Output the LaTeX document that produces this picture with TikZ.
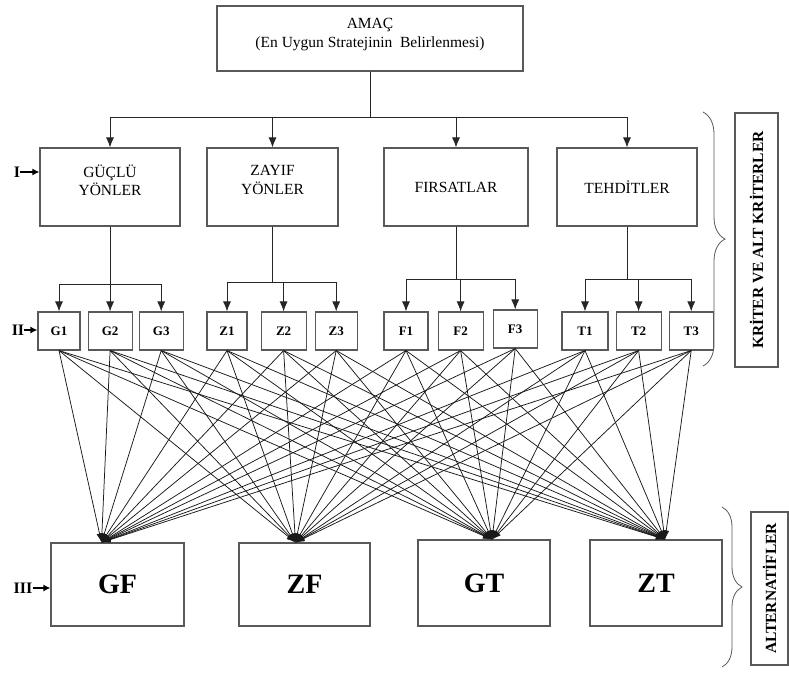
\documentclass[tikz,border=0pt]{standalone}
\usepackage{fontspec}
\setmainfont{Liberation Serif}
\usetikzlibrary{arrows.meta}
\usetikzlibrary{positioning}
\usetikzlibrary{decorations.pathreplacing}

\tikzset{
  box/.style={draw=black!65, line width=1.1pt, inner sep=0pt, align=center,
    font=\fontsize{15.5}{18.5}\selectfont},
  crit/.style={box, minimum height=78pt},
  sub/.style={box, minimum width=44pt, minimum height=38pt,
    font=\fontsize{13}{15}\selectfont\bfseries},
  alt/.style={box, minimum width=132pt, minimum height=84pt,
    font=\fontsize{28}{30}\selectfont\bfseries},
  arr/.style={-{Latex[length=10pt,width=8pt]}, line width=0.9pt, draw=black!85},
  link/.style={-{Latex[length=9pt,width=6pt]}, line width=0.75pt, draw=black!90},
  lvl/.style={font=\fontsize{16}{18}\selectfont\bfseries, inner sep=0pt},
  lvlarr/.style={-{Latex[length=7pt,width=7pt]}, line width=1.4pt},
  side/.style={draw=black!65, line width=1.1pt, rotate=90, inner sep=0pt,
    font=\fontsize{15.5}{17}\selectfont\bfseries},
  curly/.style={decorate, decoration={brace, amplitude=#1}, line width=0.8pt, draw=black!65},
}

\begin{document}
\begin{tikzpicture}[x=1pt, y=-1pt]
  \useasboundingbox (0,0) rectangle (789,673);

  % goal
  \node[box, minimum width=306pt, minimum height=65pt, text depth=11pt] (goal) at (370,38.5)
    {AMAÇ\\(En Uygun Stratejinin~ Belirlenmesi)};

  % level I: criteria
  \node[crit, minimum width=140pt, text depth=14pt] (guclu) at (110,187) {GÜÇLÜ\\YÖNLER};
  \node[crit, minimum width=131pt, text depth=14pt] (zayif) at (272.5,187) {ZAYIF\\YÖNLER};
  \node[crit, minimum width=144pt] (firsat) at (456,187) {FIRSATLAR};
  \node[crit, minimum width=140pt] (tehdit) at (627,187) {TEHDİTLER};

  % level II: sub criteria
  \node[sub, minimum width=42pt] (g1) at (59,331) {G1};
  \node[sub, right=7pt of g1] (g2) {G2};
  \node[sub, right=6pt of g2] (g3) {G3};
  \node[sub, minimum width=40pt] (z1) at (227,331) {Z1};
  \node[sub, minimum width=45pt, right=13pt of z1] (z2) {Z2};
  \node[sub, minimum width=42pt, right=8pt of z2] (z3) {Z3};
  \node[sub] (f1) at (406,331) {F1};
  \node[sub, minimum width=45pt, right=9pt of f1] (f2) {F2};
  \node[sub, right=9pt of f2, yshift=2pt] (f3) {F3};
  \node[sub, minimum width=46pt] (t1) at (585,331) {T1};
  \node[sub, minimum width=45pt, right=7pt of t1] (t2) {T2};
  \node[sub, right=7pt of t2] (t3) {T3};

  % level III: alternatives
  \node[alt, minimum width=133pt, minimum height=83pt] (gf) at (117.5,584.5) {GF};
  \node[alt, minimum width=131pt, minimum height=83pt] (zf) at (304.5,584.5) {ZF};
  \node[alt, minimum height=86pt] (gt) at (484,583) {GT};
  \node[alt, minimum height=86pt] (zt) at (656,583) {ZT};

  % goal -> criteria
  \foreach \c in {guclu,zayif,firsat,tehdit}
    \draw[arr] (goal.south) |- ([yshift=30pt]\c.north) -| (\c.north);

  % criteria -> sub criteria
  \foreach \c/\s/\h in {guclu/g/27, zayif/z/29, firsat/f/32, tehdit/t/32}
    \foreach \i in {1,2,3}
      \draw[arr] (\c.south) |- ([yshift=\h pt]\s1.north -| \s\i.north) -- (\s\i.north);

  % sub criteria -> alternatives
  \foreach \s in {g1,g2,g3,z1,z2,z3,f1,f2,f3,t1,t2,t3}
    \foreach \a/\dx in {gf/-16, zf/-9, gt/8, zt/9}
      \draw[link] (\s.south) -- ([xshift=\dx pt]\a.north);

  % level marks
  \node[lvl] (l1) at (17,172) {I};
  \draw[lvlarr] (l1.east) -- (l1.east -| guclu.west);
  \node[lvl] (l2) at (18,330) {II};
  \draw[lvlarr] (l2.east) -- (l2.east -| g1.west);
  \node[lvl] (l3) at (23,588) {III};
  \draw[lvlarr] (l3.east) -- (l3.east -| gf.west);

  % braces and side labels
  \draw[curly=22pt] (703,112) -- (703,366);
  \draw[curly=20pt] (722,507) -- (722,667);
  \node[side, minimum width=254pt, minimum height=43pt] (kriter) at (756.5,240)
    {KRİTER VE ALT KRİTERLER};
  \node[side, minimum width=153pt, minimum height=37pt] (alter) at (769.5,588.5)
    {ALTERNATİFLER};
\end{tikzpicture}
\end{document}
